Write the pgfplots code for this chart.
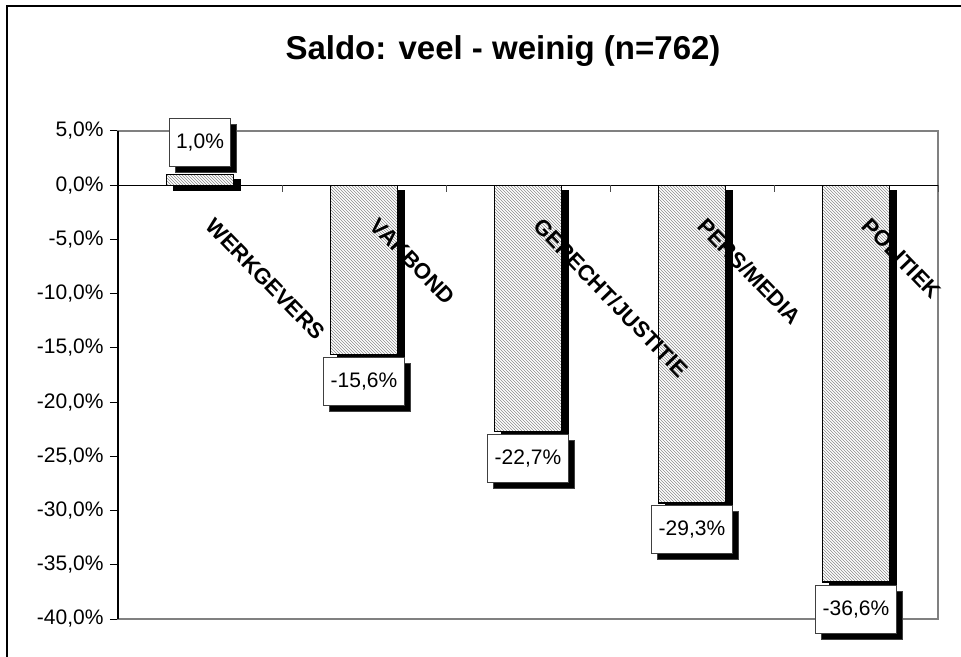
\documentclass[border=0pt]{standalone}
\usepackage{pgfplots}
\pgfplotsset{compat=1.18}
\usepackage{pgfplotstable}
\usepackage{fontspec}
\setmainfont{Liberation Sans}
\usetikzlibrary{shadows,patterns,calc}

\pgfplotstableread{
x y
0 1.0
}\pos
\pgfplotstableread{
x y
1 -15.6
2 -22.7
3 -29.3
4 -36.6
}\neg

\begin{document}
\begin{tikzpicture}[x=1pt,y=1pt]
\begin{axis}[
  at={(0,0)}, anchor=south west,
  scale only axis, width=820pt, height=488pt,
  xmin=-0.5, xmax=4.5, ymin=-40, ymax=5,
  xtick=\empty,
  ytick={-40,-35,-30,-25,-20,-15,-10,-5,0,5},
  ytick pos=left,
  yticklabel={\pgfmathprintnumber[fixed,fixed zerofill,precision=1,use comma]{\tick}\%},
  /pgf/number format/assume math mode=true,
  ticklabel style={font=\fontsize{21}{25}\selectfont},
  yticklabel style={xshift=-3pt},
  tick align=outside, major tick length=8pt,
  tick style={black, line width=1pt},
  axis line style={draw=black!50, line width=1.6pt},
  clip=false,
  ybar, bar width=67pt, bar shift=0pt,
  nodes near coords={\pgfmathprintnumber[fixed,fixed zerofill,precision=1,use comma,assume math mode=true]{\pgfplotspointmeta}\%},
  every node near coord/.append style={draw=black!75, line width=1pt, fill=white,
     inner xsep=7pt, minimum height=48pt, text=black,
     font=\fontsize{21}{25}\selectfont,
     drop shadow={shadow xshift=6pt, shadow yshift=-6pt, fill=black, opacity=1}},
  barstyle/.style={draw=black, line width=1.3pt, fill=white,
     drop shadow={shadow xshift=7pt, shadow yshift=-5pt, fill=black, opacity=1},
     postaction={pattern=north west lines, pattern color=black!45}},
]
\addplot[barstyle, every node near coord/.append style={outer ysep=8pt}]
  table[x=x,y=y]{\pos};
\addplot[barstyle, every node near coord/.append style={outer ysep=3pt}]
  table[x=x,y=y]{\neg};

\draw[black, line width=1.3pt] (axis cs:-0.5,0) -- (axis cs:4.5,0);
\draw[black, line width=1.6pt] (axis cs:-0.5,-40) -- (axis cs:-0.5,5);
\draw[black!70, line width=1pt]
  (axis cs:0.5,0) -- ([yshift=-7pt]axis cs:0.5,0)
  (axis cs:1.5,0) -- ([yshift=-7pt]axis cs:1.5,0)
  (axis cs:2.5,0) -- ([yshift=-7pt]axis cs:2.5,0)
  (axis cs:3.5,0) -- ([yshift=-7pt]axis cs:3.5,0)
  (axis cs:4.5,0) -- ([yshift=-7pt]axis cs:4.5,0);

\node[rotate=-46, anchor=north west, inner sep=0pt, font=\bfseries\fontsize{22}{26}\selectfont]
  at ($(axis cs:0,0)+(16pt,-31pt)$) {WERKGEVERS};
\node[rotate=-46, anchor=north west, inner sep=0pt, font=\bfseries\fontsize{22}{26}\selectfont]
  at ($(axis cs:1,0)+(16pt,-31pt)$) {VAKBOND};
\node[rotate=-46, anchor=north west, inner sep=0pt, font=\bfseries\fontsize{22}{26}\selectfont]
  at ($(axis cs:2,0)+(16pt,-31pt)$) {GERECHT/JUSTITIE};
\node[rotate=-46, anchor=north west, inner sep=0pt, font=\bfseries\fontsize{22}{26}\selectfont]
  at ($(axis cs:3,0)+(16pt,-31pt)$) {PERS/MEDIA};
\node[rotate=-46, anchor=north west, inner sep=0pt, font=\bfseries\fontsize{22}{26}\selectfont]
  at ($(axis cs:4,0)+(16pt,-31pt)$) {POLITIEK};
\end{axis}

\node[font=\bfseries\fontsize{33}{40}\selectfont] at (385,568) {Saldo: veel - weinig (n=762)};
\draw[black, line width=1.5pt] (-111,-60) -- (-111,613) -- (860,613);

\pgfresetboundingbox
\path[use as bounding box] (-118,-37) rectangle (843,619);
\end{tikzpicture}
\end{document}
